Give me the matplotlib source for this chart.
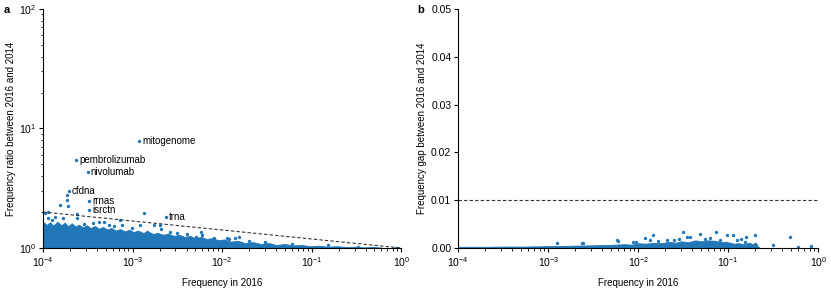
import matplotlib.pyplot as plt
from matplotlib.ticker import FormatStrFormatter, LogLocator

plt.rcParams['font.family'] = ['Liberation Sans', 'DejaVu Sans']
plt.rcParams['font.size'] = 7
plt.rcParams['mathtext.fontset'] = 'custom'
plt.rcParams['mathtext.rm'] = 'Liberation Sans'
plt.rcParams['mathtext.it'] = 'Liberation Sans:italic'

blue = '#2277b8'

# panel a: dense cloud (upper edge), outliers and labelled terms
band_a_freq = [1.0e-4, 1.1e-4, 1.2e-4, 1.3e-4, 1.45e-4, 1.6e-4, 1.75e-4, 1.9e-4, 2.1e-4, 2.3e-4,
               2.5e-4, 2.8e-4, 3.1e-4, 3.4e-4, 3.8e-4, 4.2e-4, 4.7e-4, 5.2e-4, 5.8e-4, 6.5e-4,
               7.3e-4, 8.2e-4, 9.2e-4, 1.03e-3, 1.15e-3, 1.3e-3, 1.5e-3, 1.7e-3, 1.9e-3, 2.2e-3,
               2.5e-3, 2.9e-3, 3.3e-3, 3.8e-3, 4.4e-3, 5.0e-3, 5.8e-3, 6.7e-3, 7.8e-3, 9.0e-3,
               1.05e-2, 1.25e-2, 1.5e-2, 1.8e-2, 2.2e-2, 2.7e-2, 3.3e-2, 4.0e-2, 5.0e-2, 6.2e-2,
               7.7e-2, 9.5e-2, 0.12, 0.15, 0.19, 0.24, 0.30, 0.38, 0.48, 0.60]
band_a_top = [1.66, 1.56, 1.64, 1.54, 1.66, 1.55, 1.63, 1.52, 1.61, 1.51,
              1.57, 1.49, 1.55, 1.47, 1.53, 1.45, 1.50, 1.43, 1.47, 1.40,
              1.44, 1.38, 1.42, 1.36, 1.40, 1.34, 1.37, 1.31, 1.34, 1.29,
              1.32, 1.26, 1.29, 1.24, 1.26, 1.21, 1.24, 1.19, 1.21, 1.16,
              1.18, 1.13, 1.15, 1.10, 1.12, 1.08, 1.10, 1.06, 1.08, 1.05,
              1.06, 1.035, 1.045, 1.025, 1.035, 1.02, 1.025, 1.012, 1.02, 1.008]

out_a_freq = [1.84e-4, 1.84e-4, 1.56e-4, 1.89e-4, 2.42e-4, 1.15e-4, 1.33e-3, 1.05e-4, 1.15e-4,
              1.36e-4, 1.69e-4, 2.38e-4, 4.74e-4, 5.4e-4, 7.3e-4, 7.6e-4, 1.22e-3, 1.72e-3,
              2.05e-3, 1.45e-3, 3.15e-3, 5.1e-3, 5.75e-3, 6.0e-3, 8.1e-3, 1.14e-2, 1.4e-2,
              1.55e-2, 2.9e-3, 8.8e-3, 1.19e-2, 2.1e-3, 3.6e-4, 4.2e-4, 0.33, 0.88,
              1.25e-4, 2.9e-4, 6.2e-4, 9.8e-4, 2.6e-3, 4.0e-3, 2.0e-2, 3.0e-2, 0.06, 0.15]
out_a_ratio = [2.78, 2.52, 2.28, 2.23, 1.93, 1.99, 1.95, 1.95, 1.77,
               1.83, 1.79, 1.77, 1.66, 1.56, 1.71, 1.56, 1.56, 1.56,
               1.56, 1.37, 1.33, 1.24, 1.37, 1.28, 1.21, 1.21, 1.21,
               1.24, 1.24, 1.15, 1.18, 1.45, 1.62, 1.64, 1.01, 1.006,
               1.72, 1.60, 1.52, 1.46, 1.36, 1.30, 1.15, 1.12, 1.09, 1.05]

terms = ['mitogenome', 'pembrolizumab', 'nivolumab', 'cfdna', 'rrnas', 'isrctn', 'trna']
term_freq = [1.19e-3, 2.35e-4, 3.17e-4, 1.94e-4, 3.3e-4, 3.3e-4, 2.37e-3]
term_ratio = [7.9, 5.48, 4.35, 3.0, 2.49, 2.08, 1.82]

# dashed reference line (ratio 2 at 1e-4 down to 1 at 1)
ref_a_freq = [1e-4, 1.0]
ref_a_ratio = [2.0, 1.0]

# panel b: dense cloud (upper edge) and scattered points
band_b_freq = [1e-4, 2e-4, 3e-4, 5e-4, 8e-4, 1e-3, 1.5e-3, 2e-3, 3e-3, 4e-3, 5.5e-3, 7e-3,
               8.5e-3, 1e-2, 1.2e-2, 1.5e-2, 1.8e-2, 2.2e-2, 2.6e-2, 3e-2, 3.6e-2, 4.3e-2,
               5e-2, 6e-2, 7e-2, 8.2e-2, 0.1, 0.115, 0.13, 0.15, 0.17, 0.2, 0.22]
band_b_top = [0.00025, 0.00025, 0.0003, 0.0003, 0.00035, 0.0004, 0.00045, 0.0005, 0.00055,
              0.0006, 0.0007, 0.0008, 0.0007, 0.001, 0.0009, 0.0011, 0.0010, 0.0013, 0.0011,
              0.0014, 0.0012, 0.0016, 0.0014, 0.0016, 0.0015, 0.0013, 0.0012, 0.0009, 0.0010,
              0.0008, 0.0011, 0.0006, 0.0002]

pts_b_freq = [1.24e-3, 2.35e-3, 2.4e-3, 5.75e-3, 6.0e-3, 8.8e-3, 9.5e-3, 0.0119, 0.0147,
              0.0135, 0.0165, 0.0207, 0.025, 0.0316, 0.0344, 0.038, 0.0486, 0.055, 0.0736,
              0.0979, 0.114, 0.159, 0.2, 0.2, 0.205, 0.313, 0.48, 0.6, 0.82, 0.07, 0.08,
              0.095, 0.125, 0.14, 0.155, 0.062, 0.028]
pts_b_gap = [0.00097, 0.001, 0.00105, 0.0016, 0.0014, 0.0012, 0.0012, 0.0021, 0.00265,
             0.0016, 0.0015, 0.00175, 0.00175, 0.0033, 0.0024, 0.0024, 0.003, 0.0019, 0.0034,
             0.00265, 0.00265, 0.0023, 0.00275, 0.0009, 0.0006, 0.0007, 0.0022, 0.0002, 0.0005,
             0.0012, 0.0016, 0.0010, 0.0016, 0.0018, 0.0012, 0.002, 0.0018]

ref_b_gap = 0.01

fig = plt.figure(figsize=(8.31, 2.89), dpi=100)
ax1 = fig.add_axes([0.0517, 0.1419, 0.4313, 0.8270])
ax2 = fig.add_axes([0.5515, 0.1419, 0.4332, 0.8270])

# panel a
ax1.fill_between(band_a_freq, 1.0, band_a_top, color=blue, lw=0.6, edgecolor=blue)
ax1.scatter(out_a_freq, out_a_ratio, s=6, color=blue, linewidths=0)
ax1.scatter(term_freq, term_ratio, s=6, color=blue, linewidths=0)
for t, fx, fy in zip(terms, term_freq, term_ratio):
    ax1.annotate(t, (fx, fy), xytext=(2, 0), textcoords='offset points',
                 va='center', ha='left', fontsize=7)
ax1.plot(ref_a_freq, ref_a_ratio, linestyle='--', color='#333333', lw=0.8, dashes=(3, 2))
ax1.set_xscale('log')
ax1.set_yscale('log')
ax1.set_xlim(1e-4, 1)
ax1.set_ylim(1, 100)
ax1.set_xlabel('Frequency in 2016', labelpad=7)
ax1.set_ylabel('Frequency ratio between 2016 and 2014', labelpad=2)

# panel b
ax2.fill_between(band_b_freq, 0.0, band_b_top, color=blue, lw=0.6, edgecolor=blue)
ax2.scatter(pts_b_freq, pts_b_gap, s=6, color=blue, linewidths=0)
ax2.axhline(ref_b_gap, linestyle='--', color='#333333', lw=0.8, dashes=(3, 2))
ax2.set_xscale('log')
ax2.set_xlim(1e-4, 1)
ax2.set_ylim(0, 0.05)
ax2.set_yticks([0, 0.01, 0.02, 0.03, 0.04, 0.05])
ax2.yaxis.set_major_formatter(FormatStrFormatter('%.2f'))
ax2.set_xlabel('Frequency in 2016', labelpad=7)
ax2.set_ylabel('Frequency gap between 2016 and 2014', labelpad=3)

for ax in (ax1, ax2):
    ax.spines['top'].set_visible(False)
    ax.spines['right'].set_visible(False)
    ax.spines['left'].set_linewidth(0.8)
    ax.spines['bottom'].set_linewidth(0.8)
    ax.xaxis.set_minor_locator(LogLocator(base=10, subs=range(2, 10), numticks=20))
    ax.tick_params(which='major', length=3, width=0.8, labelsize=7.5, pad=2)
    ax.tick_params(which='minor', length=1.8, width=0.6)
ax1.yaxis.set_minor_locator(LogLocator(base=10, subs=range(2, 10), numticks=20))

fig.text(0.004, 0.965, 'a', fontsize=8, fontweight='bold', va='center')
fig.text(0.502, 0.965, 'b', fontsize=8, fontweight='bold', va='center')

fig.savefig('out.png', dpi=100)
